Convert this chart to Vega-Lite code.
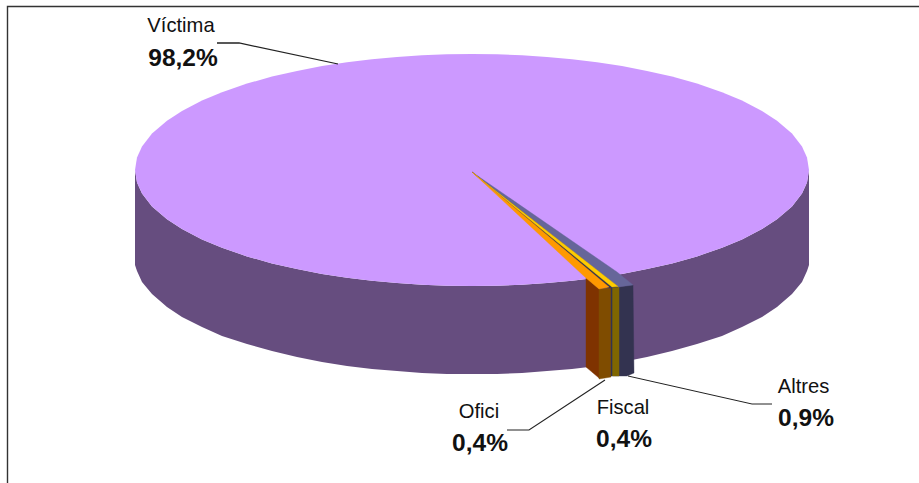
{
 "$schema":"https://vega.github.io/schema/vega-lite/v6.json",
 "width":919,"height":483,"padding":0,"autosize":{"type":"none"},
 "background":"white",
 "config":{"view":{"stroke":null}},
 "datasets":{
  "disc":[
   {"x":135,"up":170,"lo":170,"b":265},{"x":137,"up":157.4,"lo":182.6,"b":271},{"x":142,"up":146.5,"lo":193.5,"b":282},{"x":152,"up":133.6,"lo":206.4,"b":294},{"x":167,"up":120.7,"lo":219.3,"b":307},{"x":182,"up":110.9,"lo":229.1,"b":317},{"x":202,"up":100.6,"lo":239.4,"b":327},{"x":222,"up":92.2,"lo":247.8,"b":336},{"x":247,"up":83.6,"lo":256.4,"b":344},{"x":272,"up":76.6,"lo":263.4,"b":351},{"x":297,"up":70.9,"lo":269.1,"b":357},{"x":322,"up":66.1,"lo":273.9,"b":362},{"x":347,"up":62.3,"lo":277.7,"b":366},{"x":372,"up":59.2,"lo":280.8,"b":369},{"x":397,"up":56.9,"lo":283.1,"b":371},{"x":422,"up":55.3,"lo":284.7,"b":373},{"x":447,"up":54.3,"lo":285.7,"b":374},{"x":472,"up":54,"lo":286,"b":374},{"x":497,"up":54.3,"lo":285.7,"b":374},{"x":522,"up":55.3,"lo":284.7,"b":373},{"x":547,"up":56.9,"lo":283.1,"b":371},{"x":572,"up":59.2,"lo":280.8,"b":369},{"x":597,"up":62.3,"lo":277.7,"b":366},{"x":622,"up":66.1,"lo":273.9,"b":362},{"x":647,"up":70.9,"lo":269.1,"b":357},{"x":672,"up":76.6,"lo":263.4,"b":351},{"x":697,"up":83.6,"lo":256.4,"b":344},{"x":722,"up":92.2,"lo":247.8,"b":336},{"x":742,"up":100.6,"lo":239.4,"b":327},{"x":762,"up":110.9,"lo":229.1,"b":317},{"x":777,"up":120.7,"lo":219.3,"b":307},{"x":792,"up":133.6,"lo":206.4,"b":294},{"x":802,"up":146.5,"lo":193.5,"b":282},{"x":807,"up":157.4,"lo":182.6,"b":271},{"x":809,"up":170,"lo":170,"b":265}
  ],
  "faces":[
   {"f":"oficiCut","i":1,"x":586,"y":278},{"f":"oficiCut","i":2,"x":599,"y":289},{"f":"oficiCut","i":3,"x":599,"y":378},{"f":"oficiCut","i":4,"x":586,"y":367},
   {"f":"oficiRim","i":1,"x":599,"y":289},{"f":"oficiRim","i":2,"x":611,"y":288},{"f":"oficiRim","i":3,"x":611,"y":377},{"f":"oficiRim","i":4,"x":599,"y":379},
   {"f":"altresRim","i":1,"x":611,"y":288},{"f":"altresRim","i":2,"x":619,"y":287},{"f":"altresRim","i":3,"x":633,"y":285},{"f":"altresRim","i":4,"x":634,"y":373},{"f":"altresRim","i":5,"x":627,"y":376},{"f":"altresRim","i":6,"x":611,"y":376},
   {"f":"fiscalRim","i":1,"x":612.5,"y":287},{"f":"fiscalRim","i":2,"x":619,"y":287},{"f":"fiscalRim","i":3,"x":619,"y":376},{"f":"fiscalRim","i":4,"x":612.5,"y":376},
   {"f":"altresTop","i":1,"x":472,"y":172},{"f":"altresTop","i":2,"x":617,"y":272},{"f":"altresTop","i":3,"x":633,"y":285},{"f":"altresTop","i":4,"x":618,"y":287},
   {"f":"gap","i":1,"x":472,"y":172},{"f":"gap","i":2,"x":618,"y":287},{"f":"gap","i":3,"x":608,"y":288},
   {"f":"fiscalTop","i":1,"x":473,"y":173},{"f":"fiscalTop","i":2,"x":618,"y":286.5},{"f":"fiscalTop","i":3,"x":612,"y":287},
   {"f":"oficiTop","i":1,"x":472,"y":172},{"f":"oficiTop","i":2,"x":609,"y":287},{"f":"oficiTop","i":3,"x":599,"y":289},{"f":"oficiTop","i":4,"x":586,"y":278}
  ],
  "lines":[
   {"l":"frame","i":1,"x":7.5,"y":483},{"l":"frame","i":2,"x":7.5,"y":6.5},{"l":"frame","i":3,"x":919,"y":6.5},
   {"l":"Víctima","i":1,"x":217,"y":43},{"l":"Víctima","i":2,"x":239,"y":43},{"l":"Víctima","i":3,"x":338,"y":64},
   {"l":"Ofici","i":1,"x":507,"y":430},{"l":"Ofici","i":2,"x":529,"y":430},{"l":"Ofici","i":3,"x":605,"y":380},
   {"l":"Altres","i":1,"x":772,"y":404},{"l":"Altres","i":2,"x":752,"y":404},{"l":"Altres","i":3,"x":628,"y":376}
  ],
  "labels":[
   {"name":"Víctima","pct":"98,2%","x":181,"yn":32,"xv":183,"yv":66},
   {"name":"Ofici","pct":"0,4%","x":479,"yn":418,"xv":480,"yv":451},
   {"name":"Fiscal","pct":"0,4%","x":623,"yn":414,"xv":624,"yv":447},
   {"name":"Altres","pct":"0,9%","x":803.5,"yn":393,"xv":806,"yv":426}
  ]
 },
 "layer":[
  {"data":{"name":"disc"},"mark":{"type":"area","color":"#664D7F","interpolate":"linear"},
   "encoding":{"x":{"field":"x","type":"quantitative","scale":{"domain":[0,919],"nice":false,"zero":false},"axis":null},
    "y":{"field":"lo","type":"quantitative","scale":{"domain":[483,0],"nice":false,"zero":false},"axis":null},
    "y2":{"field":"b"}}},
  {"data":{"name":"disc"},"mark":{"type":"area","color":"#CC99FF","interpolate":"linear"},
   "encoding":{"x":{"field":"x","type":"quantitative"},
    "y":{"field":"up","type":"quantitative"},
    "y2":{"field":"lo"}}},
  {"data":{"name":"faces"},"mark":{"type":"line","strokeWidth":0.4,"interpolate":"linear-closed"},
   "encoding":{"x":{"field":"x","type":"quantitative"},
    "y":{"field":"y","type":"quantitative"},
    "order":{"field":"i","type":"ordinal"},
    "detail":{"field":"f"},
    "fill":{"field":"f","type":"nominal","legend":null,"scale":{"domain":["oficiCut","oficiRim","altresRim","fiscalRim","altresTop","gap","fiscalTop","oficiTop"],"range":["#7F3300","#7F4C00","#333350","#7F6600","#666699","#333350","#FFCC00","#FF9900"]}},
    "stroke":{"field":"f","type":"nominal","legend":null,"scale":{"domain":["oficiCut","oficiRim","altresRim","fiscalRim","altresTop","gap","fiscalTop","oficiTop"],"range":["#7F3300","#7F4C00","#333350","#7F6600","#666699","#333350","#FFCC00","#FF9900"]}}}},
  {"data":{"name":"lines"},"mark":{"type":"line","interpolate":"linear"},
   "encoding":{"x":{"field":"x","type":"quantitative"},
    "y":{"field":"y","type":"quantitative"},
    "order":{"field":"i","type":"ordinal"},
    "detail":{"field":"l"},
    "strokeWidth":{"field":"l","type":"nominal","legend":null,"scale":{"domain":["frame","Víctima","Ofici","Altres"],"range":[1.4,1,1,1]}},
    "color":{"field":"l","type":"nominal","legend":null,"scale":{"domain":["frame","Víctima","Ofici","Altres"],"range":["#333333","#222222","#222222","#222222"]}}}},
  {"data":{"name":"labels"},"mark":{"type":"text","font":"Liberation Sans","fontSize":20.2,"align":"center","baseline":"alphabetic","color":"#111111"},
   "encoding":{"x":{"field":"x","type":"quantitative"},"y":{"field":"yn","type":"quantitative"},"text":{"field":"name"}}},
  {"data":{"name":"labels"},"mark":{"type":"text","font":"Liberation Sans","fontSize":24.5,"fontWeight":"bold","align":"center","baseline":"alphabetic","color":"#111111"},
   "encoding":{"x":{"field":"xv","type":"quantitative"},"y":{"field":"yv","type":"quantitative"},"text":{"field":"pct"}}}
 ]
}
